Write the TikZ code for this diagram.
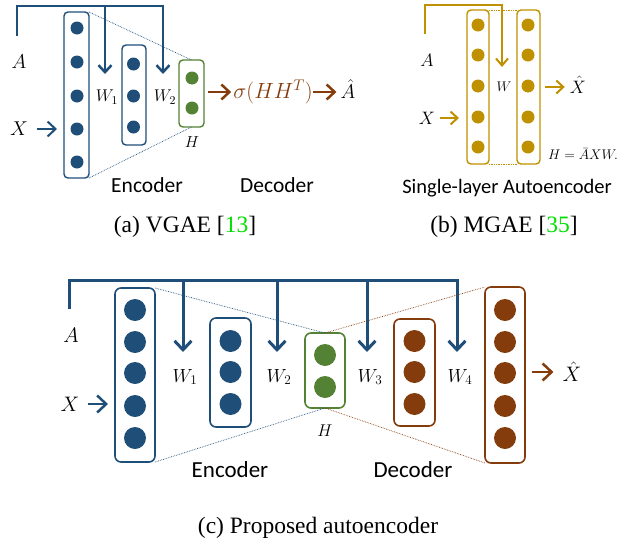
\documentclass[tikz,border=0pt]{standalone}
\usepackage{fix-cm}
\usepackage[no-math]{fontspec}
\setmainfont{Liberation Serif}
\newfontfamily\calib{Carlito}
\usepackage{tikz}
\usetikzlibrary{arrows.meta}
\definecolor{encblue}{HTML}{1F4E79}
\definecolor{latgreen}{HTML}{548235}
\definecolor{decbrown}{HTML}{843C0C}
\definecolor{mgold}{HTML}{BF9000}
\definecolor{citegreen}{HTML}{00E000}
\tikzset{
  layer/.style={draw=#1, line width=1.4pt, rounded corners=4pt, inner sep=0pt, outer sep=0pt},
  unit/.style={circle, fill=#1, inner sep=0pt, outer sep=0pt},
  wire/.style={draw=#1, line width=2.5pt, line join=miter},
  head/.style 2 args={-{Straight Barb[length=#1, width=#2]}},
  link/.style={draw=#1, densely dotted, line width=0.7pt},
  lbl/.style={inner sep=0pt, font=\fontsize{#1}{#1}\selectfont},
  txt/.style={inner sep=0pt, font=\calib\fontsize{#1}{#1}\selectfont},
  capt/.style={inner sep=0pt, font=\fontsize{23.5pt}{24pt}\selectfont},
}

\begin{document}
\begin{tikzpicture}[x=1pt, y=-1pt]
\useasboundingbox (0,0) rectangle (630,544);

% (a) VGAE
\node[layer=encblue, minimum width=25pt, minimum height=166pt] (a1) at (76.5,95) {};
\foreach \y [count=\i] in {28,62,96,129,162}
  \node[unit=encblue, minimum size=13pt] (a1u\i) at (77,\y) {};
\node[layer=encblue, minimum width=24pt, minimum height=100pt] (a2) at (134,95) {};
\foreach \y [count=\i] in {64,96,127}
  \node[unit=encblue, minimum size=13pt] (a2u\i) at (133.5,\y) {};
\node[layer=latgreen, minimum width=25pt, minimum height=67pt] (ah) at (191.5,93.5) {};
\foreach \y [count=\i] in {78,108}
  \node[unit=latgreen, minimum size=13pt] (ahu\i) at (192,\y) {};

\node[lbl=20pt] (aA) at (19,62) {$A$};
\node[lbl=20pt] (aX) at (19,129) {$X$};
\node[lbl=17pt] (aw1) at (107,97) {$W_1$};
\node[lbl=17pt] (aw2) at (165,97) {$W_2$};
\node[lbl=16pt] (aH) at (192,142) {$H$};
\node[lbl=22pt, text=decbrown] (asig) at (273,92) {$\sigma(HH^T)$};
\node[lbl=20pt] (aAh) at (348,89) {$\hat{A}$};
\node[txt=21.5pt] (aenc) at (147,185) {Encoder};
\node[txt=21.5pt] (adec) at (277,185) {Decoder};
\node[capt] (acap) at (185,227) {(a) VGAE [\textcolor{citegreen}{13}]};

\coordinate (ab0) at (17,36);
\coordinate (ab1) at (105,6);
\coordinate (ab2) at (163,6);
\coordinate (ae1) at (105,74);
\coordinate (ae2) at (163,74);
\draw[wire=encblue, head={7pt}{13pt}] (ab0) |- (ab2) -- (ae2);
\draw[wire=encblue, head={7pt}{13pt}] (ab1) -- (ae1);
\draw[wire=encblue, line width=2pt, head={8pt}{15pt}, shorten <=9pt, shorten >=7pt] (aX.east) -- (aX.east -| a1.west);
\draw[link=encblue] (a1.north east) -- (ah.north);
\draw[link=encblue] (a1.south east) -- (ah.south);
\draw[wire=decbrown, head={8pt}{15pt}, shorten <=4pt, shorten >=2pt] (ah.east |- asig) -- (asig.west);
\draw[wire=decbrown, head={8pt}{15pt}, shorten >=4pt] (asig.east) -- (asig.east -| aAh.west);

% (b) MGAE
\node[layer=mgold, minimum width=22pt, minimum height=154pt] (b1) at (478,87) {};
\foreach \y [count=\i] in {25,55,86,117,147}
  \node[unit=mgold, minimum size=13pt] (b1u\i) at (478,\y) {};
\node[layer=mgold, minimum width=23pt, minimum height=154pt] (b2) at (528.5,87) {};
\foreach \y [count=\i] in {25,55,86,117,147}
  \node[unit=mgold, minimum size=13pt] (b2u\i) at (528,\y) {};

\node[lbl=18pt] (bA) at (427,60) {$A$};
\node[lbl=18pt] (bX) at (427,118) {$X$};
\node[lbl=14pt] (bw) at (504,87) {$W$};
\node[lbl=18pt] (bXh) at (578,85) {$\hat{X}$};
\node[lbl=14pt] (beq) at (583,154) {$H=\bar{A}XW.$};
\node[txt=20.5pt] (bsl) at (507,188) {Single-layer Autoencoder};
\node[capt] (bcap) at (504,227) {(b) MGAE [\textcolor{citegreen}{35}]};

\coordinate (bb0) at (425,34);
\coordinate (bb1) at (502,5);
\coordinate (be1) at (502,67);
\draw[wire=mgold, line width=2pt, head={7pt}{12pt}] (bb0) |- (bb1) -- (be1);
\draw[wire=mgold, line width=2pt, head={7pt}{13pt}, shorten <=5pt, shorten >=8pt] (bX.east) -- (bX.east -| b1.west);
\draw[wire=mgold, line width=2pt, head={7pt}{13pt}, shorten <=5pt, shorten >=5pt] (b2.east) -- (b2.east -| bXh.west);
\draw[link=mgold] (b1.north east) -- (b2.north west);
\draw[link=mgold] (b1.south east) -- (b2.south west);

% (c) proposed autoencoder
\node[layer=encblue, line width=1.6pt, rounded corners=6pt, minimum width=40pt, minimum height=174pt] (c1) at (135,375) {};
\foreach \y [count=\i] in {310,342,373,406,438}
  \node[unit=encblue, minimum size=22pt] (c1u\i) at (135,\y) {};
\node[layer=encblue, line width=1.6pt, rounded corners=6pt, minimum width=41pt, minimum height=109pt] (c2) at (230.5,372.5) {};
\foreach \y [count=\i] in {341,372,404}
  \node[unit=encblue, minimum size=22pt] (c2u\i) at (230.5,\y) {};
\node[layer=latgreen, line width=1.6pt, rounded corners=6pt, minimum width=40pt, minimum height=75pt] (ch) at (325,370.5) {};
\foreach \y [count=\i] in {355,387}
  \node[unit=latgreen, minimum size=22pt] (chu\i) at (325,\y) {};
\node[layer=decbrown, line width=1.6pt, rounded corners=6pt, minimum width=41pt, minimum height=107pt] (c3) at (414.5,372.5) {};
\foreach \y [count=\i] in {341,372,404}
  \node[unit=decbrown, minimum size=22pt] (c3u\i) at (414.5,\y) {};
\node[layer=decbrown, line width=1.6pt, rounded corners=6pt, minimum width=40pt, minimum height=176pt] (c4) at (505,375) {};
\foreach \y [count=\i] in {310,342,373,406,438}
  \node[unit=decbrown, minimum size=22pt] (c4u\i) at (505,\y) {};

\node[lbl=21pt] (cA) at (71,335) {$A$};
\node[lbl=21pt] (cX) at (70,404) {$X$};
\node[lbl=19pt] (cw1) at (185,377) {$W_1$};
\node[lbl=19pt] (cw2) at (279,377) {$W_2$};
\node[lbl=19pt] (cw3) at (370,377) {$W_3$};
\node[lbl=19pt] (cw4) at (460,377) {$W_4$};
\node[lbl=17pt] (cH) at (325,431) {$H$};
\node[lbl=21pt] (cXh) at (572,372) {$\hat{X}$};
\node[txt=23pt] (cenc) at (230,470) {Encoder};
\node[txt=23pt] (cdec) at (413,470) {Decoder};
\node[capt] (ccap) at (318,528) {(c) Proposed autoencoder};

\coordinate (cb0) at (69,309);
\coordinate (cb1) at (183,280);
\coordinate (cb2) at (277,280);
\coordinate (cb3) at (367,280);
\coordinate (cb4) at (457,280);
\coordinate (ce1) at (183,352);
\coordinate (ce2) at (277,352);
\coordinate (ce3) at (367,352);
\coordinate (ce4) at (457,352);
\draw[wire=encblue, line width=3pt, head={9pt}{17pt}] (cb0) |- (cb4) -- (ce4);
\foreach \k in {1,2,3}
  \draw[wire=encblue, line width=3pt, head={9pt}{17pt}] (cb\k) -- (ce\k);
\draw[wire=encblue, head={9pt}{17pt}, shorten <=8pt, shorten >=7pt] (cX.east) -- (cX.east -| c1.west);
\draw[wire=decbrown, head={9pt}{17pt}, shorten <=7pt, shorten >=9pt] (c4.east |- cXh) -- (cXh.west);
\draw[link=encblue] (c1.north east) -- (ch.north);
\draw[link=encblue] (c1.south east) -- (ch.south);
\draw[link=decbrown] (ch.north) -- (c4.north west);
\draw[link=decbrown] (ch.south) -- (c4.south west);
\end{tikzpicture}
\end{document}
